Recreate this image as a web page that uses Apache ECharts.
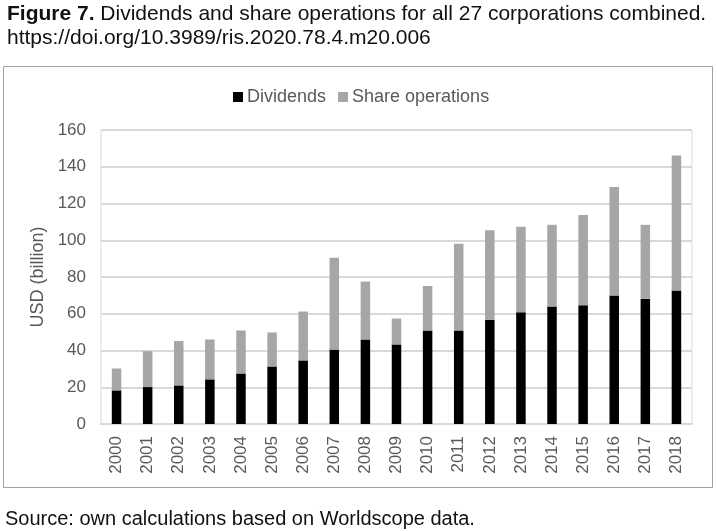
<!DOCTYPE html>
<html>
<head>
<meta charset="utf-8">
<title>Figure 7</title>
<script src="https://cdn.jsdelivr.net/npm/echarts@6/dist/echarts.min.js"></script>
<style>
    html, body { margin: 0; padding: 0; background: #fff; }
    #chart { width: 717px; height: 531px; }
</style>
</head>
<body>
<div id="chart"></div>
<script>
    // data (USD billion)
    var years = ['2000', '2001', '2002', '2003', '2004', '2005', '2006', '2007', '2008', '2009',
        '2010', '2011', '2012', '2013', '2014', '2015', '2016', '2017', '2018'];
    var dividends = [18.3, 20.1, 21.0, 24.3, 27.5, 31.3, 34.6, 40.5, 46.0, 43.3,
        50.9, 50.9, 56.8, 60.8, 63.9, 64.6, 70.0, 68.2, 72.6];
    var shareOperations = [11.9, 19.5, 24.2, 21.7, 23.4, 18.5, 26.6, 50.0, 31.5, 14.1,
        24.2, 47.2, 48.7, 46.5, 44.5, 49.2, 59.0, 40.2, 73.5];
    var yTicks = { min: 0, max: 160, interval: 20 };

    var font = '"Liberation Sans", Arial, sans-serif';
    var gray = '#595959';

    var chart = echarts.init(document.getElementById('chart'));

    var option = {
        animation: false,
        textStyle: { fontFamily: font },
        title: [{
            left: 2,
            top: -3,
            text: '{b|Figure 7.} Dividends and share operations for all 27 corporations combined.\nhttps://doi.org/10.3989/ris.2020.78.4.m20.006',
            textStyle: {
                fontFamily: font,
                fontSize: 21,
                fontWeight: 'normal',
                color: '#111',
                lineHeight: 24,
                rich: {
                    b: { fontFamily: font, fontSize: 21, fontWeight: 'bold', color: '#111', lineHeight: 24 }
                }
            }
        }, {
            left: 0,
            top: 504,
            text: 'Source: own calculations based on Worldscope data.',
            textStyle: { fontFamily: font, fontSize: 20, fontWeight: 'normal', color: '#111' }
        }],
        graphic: [{
            type: 'rect',
            shape: { x: 3.5, y: 66.5, width: 709, height: 421 },
            style: { fill: 'none', stroke: '#a0a0a0', lineWidth: 1 },
            silent: true
        }],
        legend: {
            left: 228,
            top: 83,
            itemWidth: 10,
            itemHeight: 10,
            itemGap: 12,
            icon: 'rect',
            textStyle: { fontFamily: font, fontSize: 18, color: gray, padding: [0, 0, 0, -1] },
            data: ['Dividends', 'Share operations']
        },
        grid: {
            left: 101,
            right: 25,
            top: 130,
            bottom: 107,
            show: true,
            borderColor: '#d9d9d9',
            borderWidth: 1
        },
        xAxis: {
            type: 'category',
            data: years,
            axisLine: { lineStyle: { color: '#d9d9d9', width: 2 } },
            axisTick: { show: false },
            axisLabel: {
                rotate: 90,
                margin: 12,
                fontFamily: font,
                fontSize: 17,
                color: gray
            }
        },
        yAxis: {
            type: 'value',
            min: yTicks.min,
            max: yTicks.max,
            interval: yTicks.interval,
            name: 'USD (billion)',
            nameLocation: 'middle',
            nameGap: 51,
            nameTextStyle: { fontFamily: font, fontSize: 18, color: gray },
            axisLine: { show: false },
            axisTick: { show: false },
            axisLabel: { margin: 15, fontFamily: font, fontSize: 17, color: gray },
            splitLine: { lineStyle: { color: '#d9d9d9', width: 2 } }
        },
        series: [{
            name: 'Dividends',
            type: 'bar',
            stack: 'total',
            barWidth: 9.5,
            itemStyle: { color: '#000000' },
            data: dividends
        }, {
            name: 'Share operations',
            type: 'bar',
            stack: 'total',
            barWidth: 9.5,
            itemStyle: { color: '#a6a6a6' },
            data: shareOperations
        }]
    };

    chart.setOption(option);
</script>
</body>
</html>
